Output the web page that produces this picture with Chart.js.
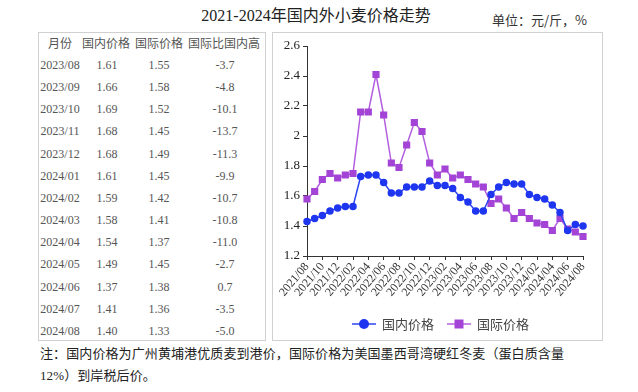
<!DOCTYPE html>
<html>
<head>
<meta charset="utf-8">
<script src="https://cdn.jsdelivr.net/npm/chart.js@4.4.1/dist/chart.umd.min.js"></script>
<style>
  body { margin:0; background:#fff; width:638px; height:392px; position:relative; overflow:hidden;
         font-family:"Noto Sans CJK SC", sans-serif; }
  .abs { position:absolute; white-space:nowrap; }
  #title { left:0; width:632px; top:5px; text-align:center; font-size:16px; line-height:22px; color:#222;
           font-family:"Liberation Serif","Noto Sans CJK SC"; }
  #unit { left:492px; top:11px; font-size:13px; line-height:18px; color:#333; }
  .box { position:absolute; border:1px solid #d0d0d0; box-sizing:border-box; }
  .th { position:absolute; font-size:12px; line-height:16px; color:#555; transform:translateX(-50%); white-space:nowrap; }
  .td { position:absolute; font-size:12px; line-height:16px; color:#555; font-family:"Liberation Serif",serif;
        transform:translateX(-50%); white-space:nowrap; }
  .note { left:40px; font-size:13px; line-height:20px; color:#222; letter-spacing:0.1px;
          font-family:"Liberation Serif","Noto Sans CJK SC"; }
  #chartWrap { position:absolute; left:272px; top:32px; width:331px; height:309px; }
</style>
</head>
<body>
<div id="title" class="abs">2021-2024年国内外小麦价格走势</div>
<div id="unit" class="abs">单位：元/斤，%</div>

<div class="box" style="left:38px;top:32px;width:228px;height:309px;"></div>
<div id="table"></div>

<div class="box" style="left:272px;top:32px;width:331px;height:309px;"></div>
<div id="chartWrap"><canvas id="chart" width="331" height="309"></canvas></div>

<div class="abs note" style="top:344px;">注：国内价格为广州黄埔港优质麦到港价，国际价格为美国墨西哥湾硬红冬麦（蛋白质含量</div>
<div class="abs note" style="top:366px;">12%）到岸税后价。</div>

<script>
// monthly data, 2021/08 .. 2024/08
const months = [];
for (let y = 2021, m = 8; y < 2024 || (y === 2024 && m <= 8); m++) {
  if (m > 12) { m = 1; y++; }
  months.push(y + '/' + String(m).padStart(2, '0'));
}

const domestic = [1.43, 1.45, 1.47, 1.50, 1.52, 1.53, 1.53, 1.73, 1.74, 1.74, 1.69, 1.62, 1.62,
                  1.66, 1.66, 1.66, 1.70, 1.67, 1.67, 1.65, 1.59, 1.56, 1.50, 1.50,
                  1.61, 1.66, 1.69, 1.68, 1.68, 1.61, 1.59, 1.58, 1.54, 1.49, 1.37, 1.41, 1.40];
const international = [1.58, 1.63, 1.71, 1.75, 1.72, 1.74, 1.75, 2.16, 2.16, 2.41, 2.14, 1.82, 1.79,
                       1.94, 2.09, 2.03, 1.82, 1.74, 1.78, 1.72, 1.74, 1.71, 1.68, 1.66,
                       1.55, 1.58, 1.52, 1.45, 1.49, 1.45, 1.42, 1.41, 1.37, 1.45, 1.38, 1.36, 1.33];
// 国际比国内高 (%), last 13 months
const gapPct = [-3.7, -4.8, -10.1, -13.7, -11.3, -9.9, -10.7, -10.8, -11.0, -2.7, 0.7, -3.5, -5.0];

const yTicks = { min: 1.2, max: 2.6, step: 0.2 };
const headers = ['月份', '国内价格', '国际价格', '国际比国内高'];

// ---- left table ----
const tbl = document.getElementById('table');
const headX = [60, 106, 159, 224];
const colX = [60, 107, 159, 225];
headers.forEach((h, i) => {
  const d = document.createElement('div');
  d.className = 'th'; d.textContent = h;
  d.style.left = headX[i] + 'px'; d.style.top = '35px';
  tbl.appendChild(d);
});
const start = months.length - gapPct.length;
gapPct.forEach((g, r) => {
  const k = start + r;
  const cells = [months[k], domestic[k].toFixed(2), international[k].toFixed(2), g.toFixed(1)];
  cells.forEach((c, i) => {
    const d = document.createElement('div');
    d.className = 'td'; d.textContent = c;
    d.style.left = colX[i] + 'px';
    d.style.top = (57 + r * 22.15) + 'px';
    tbl.appendChild(d);
  });
});

// legend with line through marker
const lineLegend = {
  id: 'lineLegend',
  afterDraw(chart) {
    const ctx = chart.ctx;
    let x = 80;
    const y = 292;
    ctx.save();
    ctx.font = '13px "Noto Sans CJK SC"';
    ctx.textBaseline = 'middle';
    chart.data.datasets.forEach(ds => {
      ctx.strokeStyle = ds.borderColor; ctx.lineWidth = 1.5;
      ctx.beginPath(); ctx.moveTo(x, y); ctx.lineTo(x + 24, y); ctx.stroke();
      ctx.fillStyle = ds.pointBackgroundColor;
      if (ds.pointStyle === 'rect') {
        ctx.fillRect(x + 12 - 4.5, y - 4.5, 9, 9);
      } else {
        ctx.beginPath(); ctx.arc(x + 12, y, 5, 0, Math.PI * 2); ctx.fill();
      }
      ctx.fillStyle = '#444';
      ctx.fillText(ds.label, x + 30, y);
      x += 30 + ctx.measureText(ds.label).width + 13;
    });
    ctx.restore();
  }
};

new Chart(document.getElementById('chart'), {
  type: 'line',
  data: {
    labels: months,
    datasets: [
      { label: '国内价格', data: domestic, borderColor: '#2f45f2', backgroundColor: '#1f36f0',
        pointBackgroundColor: '#1f36f0', pointBorderColor: '#1f36f0', pointStyle: 'circle',
        pointRadius: 3, borderWidth: 1.5, tension: 0 },
      { label: '国际价格', data: international, borderColor: '#b35fe0', backgroundColor: '#a344d6',
        pointBackgroundColor: '#a344d6', pointBorderColor: '#a344d6', pointStyle: 'rect',
        pointRadius: 4, borderWidth: 1.5, tension: 0 }
    ]
  },
  options: {
    responsive: false,
    animation: false,
    layout: { padding: { left: 0, right: 20, top: 14, bottom: 24 } },
    plugins: { legend: { display: false }, tooltip: { enabled: false } },
    scales: {
      x: {
        grid: { drawOnChartArea: false, drawTicks: true, tickLength: 4, color: '#333' },
        border: { color: '#333', width: 1 },
        ticks: {
          autoSkip: false, minRotation: 50, maxRotation: 50, padding: 0, color: '#333',
          font: { family: 'Liberation Serif', size: 12 },
          callback: function (v, i) { return i % 2 === 0 ? this.getLabelForValue(v) : null; }
        },
        afterFit: s => { s.height = 61; }
      },
      y: {
        min: yTicks.min, max: yTicks.max,
        grid: { drawOnChartArea: false, drawTicks: true, tickLength: 4, color: '#333' },
        border: { color: '#333', width: 1 },
        ticks: {
          stepSize: yTicks.step, padding: 3, color: '#222',
          font: { family: 'Liberation Serif', size: 13 },
          callback: v => String(+v.toFixed(1))
        },
        afterFit: s => { s.width = 35; }
      }
    }
  },
  plugins: [lineLegend]
});
</script>
</body>
</html>
